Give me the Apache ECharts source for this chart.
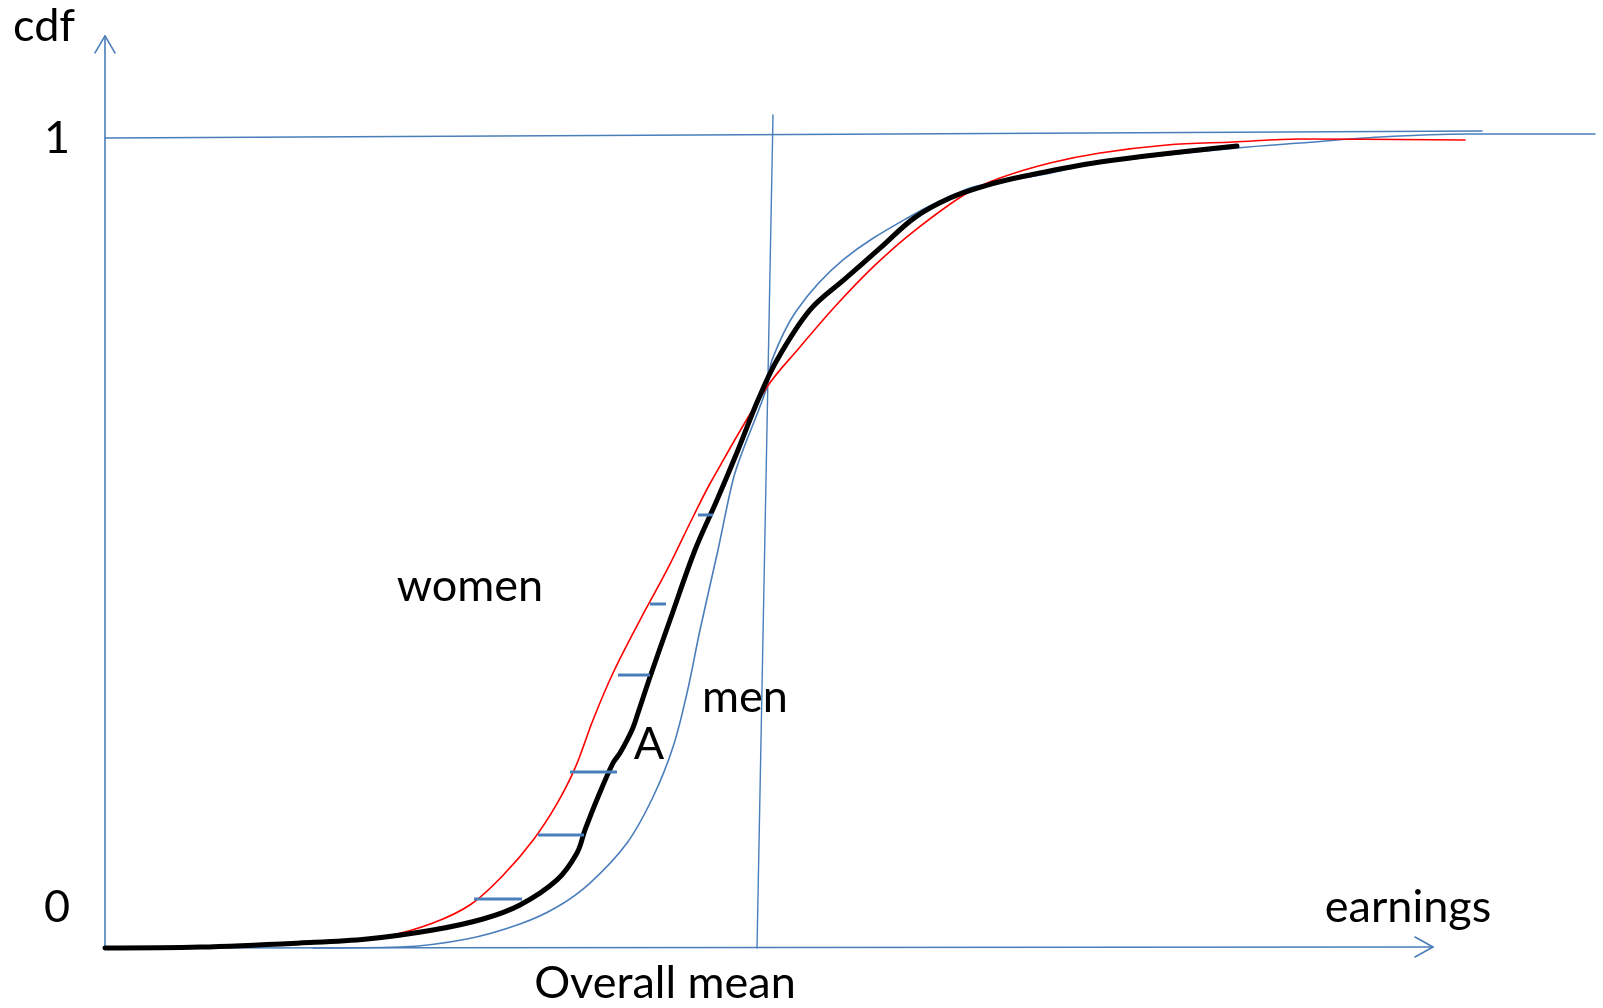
<!DOCTYPE html>
<html>
<head>
<meta charset="utf-8">
<script src="https://cdn.jsdelivr.net/npm/echarts@6/dist/echarts.min.js"></script>
<style>html,body{margin:0;padding:0;background:#fff}#c{width:1603px;height:1008px}</style>
</head>
<body>
<div id="c"></div>
<script>
// ---- data (x: earnings, y: cdf) ----
var womenCdf = [[14.5,0.0025],[22.5,0.0074],[28.2,0.0148],[32.8,0.0309],[36.6,0.0540],[39.9,0.0910],[42.8,0.1330],[45.1,0.1760],[47.0,0.2220],[48.8,0.2815],[50.8,0.3395],[53.5,0.4049],[56.2,0.4667],[58.8,0.5321],[60.7,0.5778],[66.2,0.6926],[69.5,0.7420],[73.0,0.7920],[77.0,0.8430],[81.0,0.8860],[86.2,0.9321],[89.5,0.9506],[94.5,0.9691],[99.5,0.9815],[106.2,0.9914],[112.8,0.9951],[119.5,0.9988],[136.0,0.9975]];
var menCdf = [[20.8,0.0],[29.5,0.0012],[36.2,0.0111],[41.5,0.0296],[45.2,0.0506],[48.5,0.0802],[52.2,0.1296],[54.8,0.1864],[56.8,0.2481],[58.2,0.3148],[59.5,0.3926],[61.3,0.4914],[62.8,0.5778],[63.8,0.6148],[66.2,0.6926],[66.7,0.7259],[69.2,0.7877],[73.8,0.8494],[80.2,0.9010],[86.2,0.9370],[89.5,0.9457],[93.5,0.9543],[99.5,0.9691],[113.2,0.9877],[119.5,0.9938],[127.5,1.0012],[136.2,1.0049],[149.0,1.0049]];
var overallCdf = [[0,0],[9.5,0.0012],[19.5,0.0062],[26.2,0.0111],[32.8,0.0222],[37.8,0.0358],[41.5,0.0531],[45.2,0.0840],[47.2,0.1173],[48.0,0.1457],[49.3,0.1864],[50.8,0.2284],[51.5,0.2407],[52.7,0.2691],[53.3,0.2901],[54.5,0.3346],[56.5,0.4049],[59.0,0.4914],[61.2,0.5531],[63.3,0.6148],[65.3,0.6765],[67.2,0.7259],[70.5,0.7877],[74.0,0.8260],[77.5,0.8640],[81.0,0.9020],[84.5,0.9260],[88.0,0.9410],[92.0,0.9530],[99.5,0.9704],[113.2,0.9901]];
// hatch segments between women and overall curve: [cdf, xFrom, xTo]
var hatches = [[0.0605,36.9,41.7],[0.1395,43.3,47.9],[0.2173,46.5,51.2],[0.3370,51.3,54.5],[0.4247,54.5,56.1],[0.5346,59.3,60.8]];
var oneLine = [[0,1.0],[137.7,1.0086]];
var meanLine = [[65.2,0],[66.8,1.0284]];
var yAxisLine = [[0,0],[0,1.126]];
var yArrow = [[-1.0,1.105],[0,1.126],[1.0,1.105]];
var xAxisLine = [[0,0],[132.8,0.0012]];
var xArrow = [[131.0,0.0136],[132.8,0.0012],[131.0,-0.0111]];
var labels = {cdf:'cdf', one:'1', zero:'0', x:'earnings', mean:'Overall mean', women:'women', men:'men', a:'A'};

var BLUE = '#4a7ebb';
function line(data, color, width, z, smooth) {
  return {type:'line', data:data, showSymbol:false, smooth:smooth||false, silent:true, z:z,
    lineStyle:{color:color, width:width, cap:'round', join:'round'}, animation:false};
}
var series = [
  line(yAxisLine, BLUE, 1.6, 2), line(yArrow, BLUE, 1.6, 2),
  line(xAxisLine, BLUE, 1.6, 2), line(xArrow, BLUE, 1.6, 2),
  line(oneLine, BLUE, 1.6, 2), line(meanLine, BLUE, 1.4, 2),
  line(menCdf, BLUE, 1.6, 3, 0.35),
  line(womenCdf, '#ff0000', 1.6, 4, 0.35),
  line(overallCdf, '#000000', 5, 5, 0.35)
];
hatches.forEach(function(h){
  var s = line([[h[1],h[0]],[h[2],h[0]]], BLUE, 3, 6);
  s.lineStyle.cap = 'butt';
  series.push(s);
});

var FONT = 'Lato';
var FS = 45;
function txt(s, x, y, align) {
  return {type:'text', x:x, y:y, z:10, style:{text:s, fill:'#000', font: FS+'px '+FONT, textAlign:align||'center', textVerticalAlign:'middle'}};
}
var chart = echarts.init(document.getElementById('c'));
chart.setOption({
  backgroundColor:'#fff',
  animation:false,
  grid:{left:0,right:0,top:0,bottom:0},
  xAxis:{type:'value', min:-10.5, max:149.8, show:false},
  yAxis:{type:'value', min:-0.07407, max:1.17037, show:false},
  series: series,
  graphic: [
    txt(labels.cdf, 13, 26, 'left'),
    txt(labels.one, 57, 138),
    txt(labels.zero, 57, 907),
    txt(labels.x, 1408, 907),
    txt(labels.mean, 665, 983),
    txt(labels.women, 470, 586),
    txt(labels.men, 745, 697),
    txt(labels.a, 649, 744)
  ]
});
</script>
</body>
</html>
